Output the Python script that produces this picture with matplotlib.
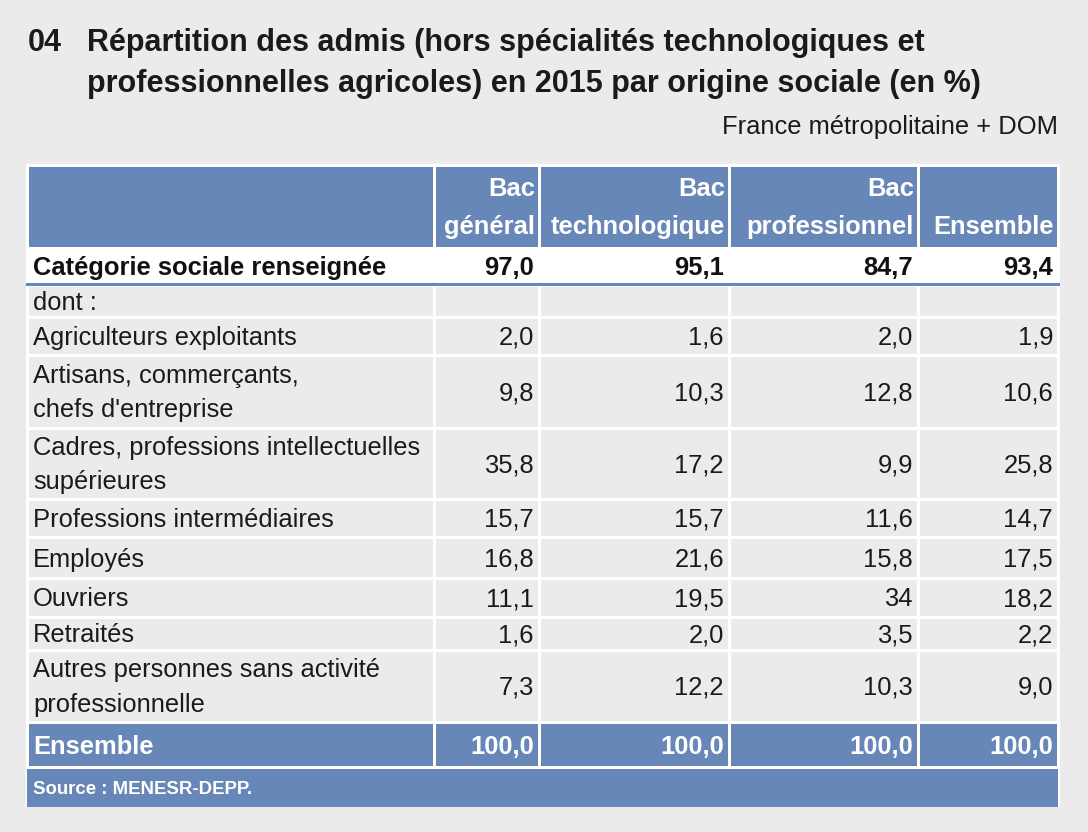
import matplotlib.pyplot as plt
from matplotlib.patches import Rectangle

plt.rcParams['font.family'] = ['Liberation Sans Narrow', 'Liberation Sans', 'DejaVu Sans']

title_num = '04'
title_lines = ['Répartition des admis (hors spécialités technologiques et',
               'professionnelles agricoles) en 2015 par origine sociale (en %)']
subtitle = 'France métropolitaine + DOM'
col_headers = [['Bac', 'général'], ['Bac', 'technologique'], ['Bac', 'professionnel'], ['', 'Ensemble']]
total_label = 'Catégorie sociale renseignée'
total_values = ['97,0', '95,1', '84,7', '93,4']
row_labels = [['dont :'],
              ['Agriculteurs exploitants'],
              ['Artisans, commerçants,', "chefs d'entreprise"],
              ['Cadres, professions intellectuelles', 'supérieures'],
              ['Professions intermédiaires'],
              ['Employés'],
              ['Ouvriers'],
              ['Retraités'],
              ['Autres personnes sans activité', 'professionnelle']]
row_values = [['', '', '', ''],
              ['2,0', '1,6', '2,0', '1,9'],
              ['9,8', '10,3', '12,8', '10,6'],
              ['35,8', '17,2', '9,9', '25,8'],
              ['15,7', '15,7', '11,6', '14,7'],
              ['16,8', '21,6', '15,8', '17,5'],
              ['11,1', '19,5', '34', '18,2'],
              ['1,6', '2,0', '3,5', '2,2'],
              ['7,3', '12,2', '10,3', '9,0']]
foot_label = 'Ensemble'
foot_values = ['100,0', '100,0', '100,0', '100,0']
source = 'Source : MENESR-DEPP.'

# layout (pixels)
W, H = 1088, 832
col_edges = [27, 434, 539, 729, 918, 1058]
row_edges = [285, 317, 355, 428, 499, 537, 578, 617, 650, 722]
blue = '#6787b8'
cell_bg = '#ebebeb'
fs = 18.4
dy = 2  # small downward nudge for cell text

fig = plt.figure(figsize=(W / 100, H / 100), dpi=100)
fig.patch.set_facecolor('#ebebeb')
ax = fig.add_axes([0, 0, 1, 1])
ax.set_xlim(0, W)
ax.set_ylim(H, 0)
ax.axis('off')

# title
ax.text(28, 43, title_num, fontsize=22, fontweight='bold', color='#1a1a1a', va='center')
for i, line in enumerate(title_lines):
    ax.text(87, 43 + i * 41, line, fontsize=22, fontweight='bold', color='#1a1a1a', va='center')
ax.text(1058, 127, subtitle, fontsize=fs, color='#1a1a1a', ha='right', va='center')

left, right = col_edges[0], col_edges[-1]

def cell_row(y0, y1, color, gap=1.5):
    for c0, c1 in zip(col_edges[:-1], col_edges[1:]):
        ax.add_patch(Rectangle((c0 + gap, y0 + gap), c1 - c0 - 2 * gap, y1 - y0 - 2 * gap,
                               facecolor=color, edgecolor='none'))

# white table background (acts as grid lines)
ax.add_patch(Rectangle((left - 1.5, 163.5), right - left + 3, 807 - 163.5, facecolor='white', edgecolor='none'))

# header
cell_row(165, 248, blue)
for j, (l1, l2) in enumerate(col_headers):
    x = col_edges[j + 2] - 4
    ax.text(x, 187 + dy, l1, fontsize=fs, fontweight='bold', color='white', ha='right', va='center')
    ax.text(x, 225 + dy, l2, fontsize=fs, fontweight='bold', color='white', ha='right', va='center')

# total row (white)
ax.text(33, 266 + dy, total_label, fontsize=fs, fontweight='bold', color='#111111', va='center')
for j, v in enumerate(total_values):
    ax.text(col_edges[j + 2] - 5, 266 + dy, v, fontsize=fs, fontweight='bold', color='#111111', ha='right', va='center')
ax.plot([left, right], [283.5, 283.5], color=blue, lw=2.2)

# body rows
for i, (lab, vals) in enumerate(zip(row_labels, row_values)):
    y0, y1 = row_edges[i], row_edges[i + 1]
    cell_row(y0, y1, cell_bg)
    yc = (y0 + y1) / 2 + dy
    if len(lab) == 1:
        ax.text(33, yc, lab[0], fontsize=fs, color='#1a1a1a', va='center')
    else:
        ax.text(33, yc - 18, lab[0], fontsize=fs, color='#1a1a1a', va='center')
        ax.text(33, yc + 17, lab[1], fontsize=fs, color='#1a1a1a', va='center')
    for j, v in enumerate(vals):
        ax.text(col_edges[j + 2] - 5, yc, v, fontsize=fs, color='#1a1a1a', ha='right', va='center')

# foot row
cell_row(722, 767, blue)
ax.text(33, 745 + dy, foot_label, fontsize=fs, fontweight='bold', color='white', va='center')
for j, v in enumerate(foot_values):
    ax.text(col_edges[j + 2] - 5, 745 + dy, v, fontsize=fs, fontweight='bold', color='white', ha='right', va='center')

# source row
ax.add_patch(Rectangle((left, 768.5), right - left, 38, facecolor=blue, edgecolor='none'))
ax.text(33, 788 + dy, source, fontsize=13.4, fontweight='bold', color='white', va='center')

fig.savefig('out.png', dpi=100, facecolor=fig.get_facecolor())
